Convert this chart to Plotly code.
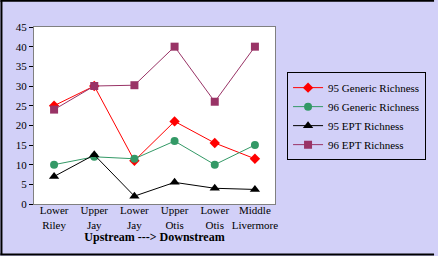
import plotly.graph_objects as go

sites = ["Lower<br>Riley", "Upper<br>Jay", "Lower<br>Jay", "Upper<br>Otis", "Lower<br>Otis", "Middle<br>Livermore"]
generic_95 = [25, 30, 11, 21, 15.5, 11.5]
generic_96 = [10, 12, 11.5, 16, 10, 15]
ept_95 = [7, 12.5, 2, 5.5, 4, 3.7]
ept_96 = [24, 30, 30.2, 40, 26, 40]

series = [
    ("95 Generic Richness", generic_95, "#ff0000", "diamond", 8),
    ("96 Generic Richness", generic_96, "#339966", "circle", 8),
    ("95 EPT Richness", ept_95, "#000000", "triangle-up", 9),
    ("96 EPT Richness", ept_96, "#993366", "square", 8),
]

fig = go.Figure()
for name, vals, color, symbol, size in series:
    fig.add_trace(go.Scatter(
        x=list(range(len(sites))), y=vals, name=name, mode="lines+markers",
        line=dict(color=color, width=1),
        marker=dict(symbol=symbol, size=size, color=color),
    ))

# outer frame of the picture (top, left, bottom edges), in plot-area paper units
frame = dict(type="line", xref="paper", yref="paper", line=dict(color="#000000", width=2))
fig.add_shape(**frame, x0=-0.14, x1=1.66, y0=1.148, y1=1.148)
fig.add_shape(**frame, x0=-0.135, x1=-0.135, y0=1.148, y1=-0.285)
fig.add_shape(**frame, x0=-0.14, x1=1.66, y0=-0.285, y1=-0.285)

font = "Liberation Serif"
fig.update_layout(
    width=438, height=256,
    margin=dict(l=34, r=160, t=27, b=52),
    paper_bgcolor="#d2d0f8",
    plot_bgcolor="#ffffff",
    font=dict(family=font, size=12, color="#000000"),
    showlegend=True,
    legend=dict(
        x=1.05, y=0.745, xanchor="left", yanchor="top",
        bgcolor="rgba(0,0,0,0)", bordercolor="#000000", borderwidth=1,
        font=dict(family=font, size=11), tracegroupgap=3,
    ),
    xaxis=dict(
        tickmode="array", tickvals=list(range(len(sites))), ticktext=sites,
        range=[-0.5, 5.5], showgrid=False, zeroline=False, automargin=False,
        showline=True, linecolor="#808080", mirror=True, ticks="", tickangle=0,
        ticklabelstandoff=-4,
        tickfont=dict(size=11),
        title=dict(text="<b>Upstream ---> Downstream</b>", font=dict(size=12), standoff=2),
    ),
    yaxis=dict(
        range=[0, 45], dtick=5, showgrid=False, zeroline=False, automargin=False,
        showline=True, linecolor="#808080", mirror=True,
        ticks="outside", ticklen=4, tickcolor="#000000",
        tickfont=dict(size=11),
    ),
)

# the page's default body margin would shift the figure by 8px
fig.write_html(
    "out.html",
    config={"displayModeBar": False},
    post_script="document.body.style.margin='0';",
)
